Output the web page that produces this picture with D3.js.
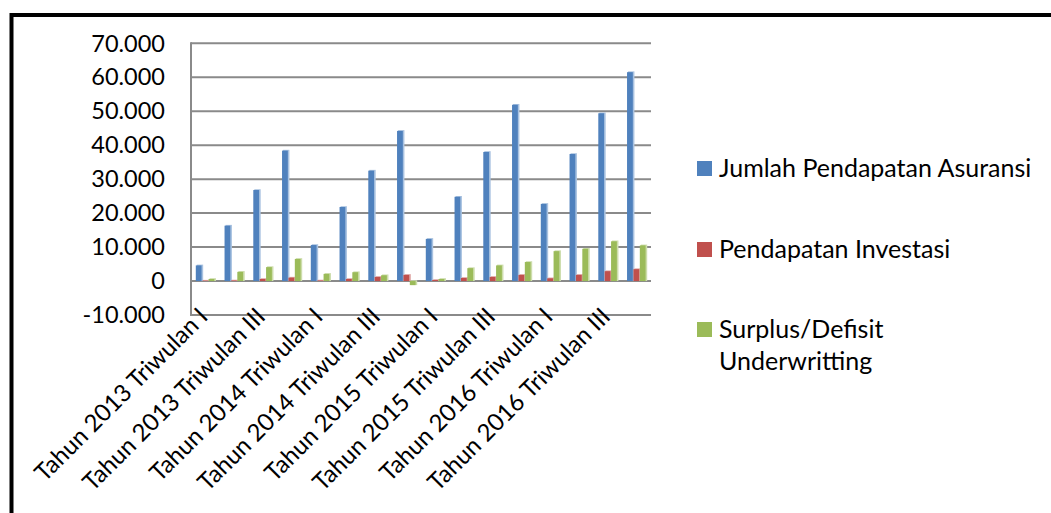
<!DOCTYPE html>
<html>
<head>
<meta charset="utf-8">
<script src="https://cdn.jsdelivr.net/npm/d3@7"></script>
<style>
  html, body { margin: 0; padding: 0; background: #fff; }
  svg { display: block; }
  text { font-family: Lato, "Open Sans", sans-serif; fill: #000; }
</style>
</head>
<body>
<svg id="chart" width="1051" height="513"></svg>
<script>
// Quarterly categories, 2013–2016
const categories = [
  "Tahun 2013 Triwulan I", "Tahun 2013 Triwulan II", "Tahun 2013 Triwulan III", "Tahun 2013 Triwulan IV",
  "Tahun 2014 Triwulan I", "Tahun 2014 Triwulan II", "Tahun 2014 Triwulan III", "Tahun 2014 Triwulan IV",
  "Tahun 2015 Triwulan I", "Tahun 2015 Triwulan II", "Tahun 2015 Triwulan III", "Tahun 2015 Triwulan IV",
  "Tahun 2016 Triwulan I", "Tahun 2016 Triwulan II", "Tahun 2016 Triwulan III", "Tahun 2016 Triwulan IV"
];

// Series values
const jumlahPendapatanAsuransi = [4600, 16300, 26800, 38400, 10600, 21800, 32500, 44200, 12400, 24800, 38000, 51900, 22700, 37400, 49400, 61500];
const pendapatanInvestasi      = [100, 150, 600, 1000, 150, 600, 1200, 1800, 300, 900, 1200, 1800, 800, 1800, 2900, 3500];
const surplusDefisit           = [600, 2700, 4100, 6500, 2100, 2600, 1700, -1200, 600, 3800, 4600, 5600, 8800, 9500, 11700, 10500];

const seriesNames = ["Jumlah Pendapatan Asuransi", "Pendapatan Investasi", "Surplus/Defisit Underwritting"];
const seriesColors = ["#4F81BD", "#C0504D", "#9BBB59"];
const seriesEdge = ["#A9C2E0", "#E0A8A6", "#CDDDAC"];
const seriesValues = [jumlahPendapatanAsuransi, pendapatanInvestasi, surplusDefisit];

// Axis ticks
const yTicks = [-10000, 0, 10000, 20000, 30000, 40000, 50000, 60000, 70000];
const yTickLabels = ["-10.000", "0", "10.000", "20.000", "30.000", "40.000", "50.000", "60.000", "70.000"];

const svg = d3.select("#chart");

// Outer frame
svg.append("rect")
  .attr("x", 11.5).attr("y", 15)
  .attr("width", 1200).attr("height", 700)
  .attr("fill", "none").attr("stroke", "#000").attr("stroke-width", 4);

const plot = { left: 191, right: 651, top: 43.3, bottom: 315 };

const y = d3.scaleLinear().domain([-10000, 70000]).range([plot.bottom, plot.top]);
const x = d3.scaleBand().domain(categories).range([plot.left, plot.right])
  .paddingInner(1 / 3).paddingOuter(1 / 6);
const xSub = d3.scaleBand().domain(d3.range(3)).range([0, x.bandwidth()]);

// Gridlines (including the category axis at zero)
svg.append("g").selectAll("line").data(yTicks).join("line")
  .attr("x1", plot.left).attr("x2", plot.right)
  .attr("y1", d => y(d)).attr("y2", d => y(d))
  .attr("stroke", "#8A8A8A").attr("stroke-width", 2);

// Value axis line
svg.append("line")
  .attr("x1", plot.left).attr("x2", plot.left)
  .attr("y1", y(-10000) + 1).attr("y2", y(70000) - 1)
  .attr("stroke", "#8A8A8A").attr("stroke-width", 2);

// Y tick labels
svg.append("g").selectAll("text").data(yTicks).join("text")
  .attr("x", 165).attr("y", d => y(d))
  .attr("dy", "0.35em")
  .attr("text-anchor", "end")
  .attr("font-size", 23.5)
  .text((d, i) => yTickLabels[i]);

// Bars
const barData = [];
categories.forEach((c, ci) => {
  seriesValues.forEach((vals, si) => barData.push({ c, si, v: vals[ci] }));
});

const bars = svg.append("g");
bars.selectAll("rect.edge").data(barData).join("rect")
  .attr("class", "edge")
  .attr("x", d => x(d.c) + xSub(d.si) + 1)
  .attr("y", d => Math.min(y(d.v), y(0)) - 0.8)
  .attr("width", xSub.bandwidth())
  .attr("height", d => Math.abs(y(d.v) - y(0)) + 0.8)
  .attr("fill", d => seriesEdge[d.si]);
bars.selectAll("rect.bar").data(barData).join("rect")
  .attr("class", "bar")
  .attr("x", d => x(d.c) + xSub(d.si))
  .attr("y", d => Math.min(y(d.v), y(0)))
  .attr("width", xSub.bandwidth() - 0.6)
  .attr("height", d => Math.abs(y(d.v) - y(0)))
  .attr("fill", d => seriesColors[d.si]);

// Category labels (every other quarter), rotated
svg.append("g").selectAll("text")
  .data(categories.filter((c, i) => i % 2 === 0))
  .join("text")
  .attr("text-anchor", "end")
  .attr("font-size", 24)
  .attr("transform", d => `translate(${x(d) + x.bandwidth() / 2 + 4},${318}) rotate(-45)`)
  .text(d => d);

// Legend
const legend = svg.append("g");
const legendItems = [
  { lines: [seriesNames[0]], y: 161 },
  { lines: [seriesNames[1]], y: 242 },
  { lines: ["Surplus/Defisit", "Underwritting"], y: 322 }
];
legendItems.forEach((item, i) => {
  legend.append("rect")
    .attr("x", 697).attr("y", item.y)
    .attr("width", 15).attr("height", 15)
    .attr("fill", seriesColors[i]);
  item.lines.forEach((ln, j) => {
    legend.append("text")
      .attr("x", 719).attr("y", item.y + 15.5 + j * 32)
      .attr("font-size", 25)
      .text(ln);
  });
});
</script>
</body>
</html>
